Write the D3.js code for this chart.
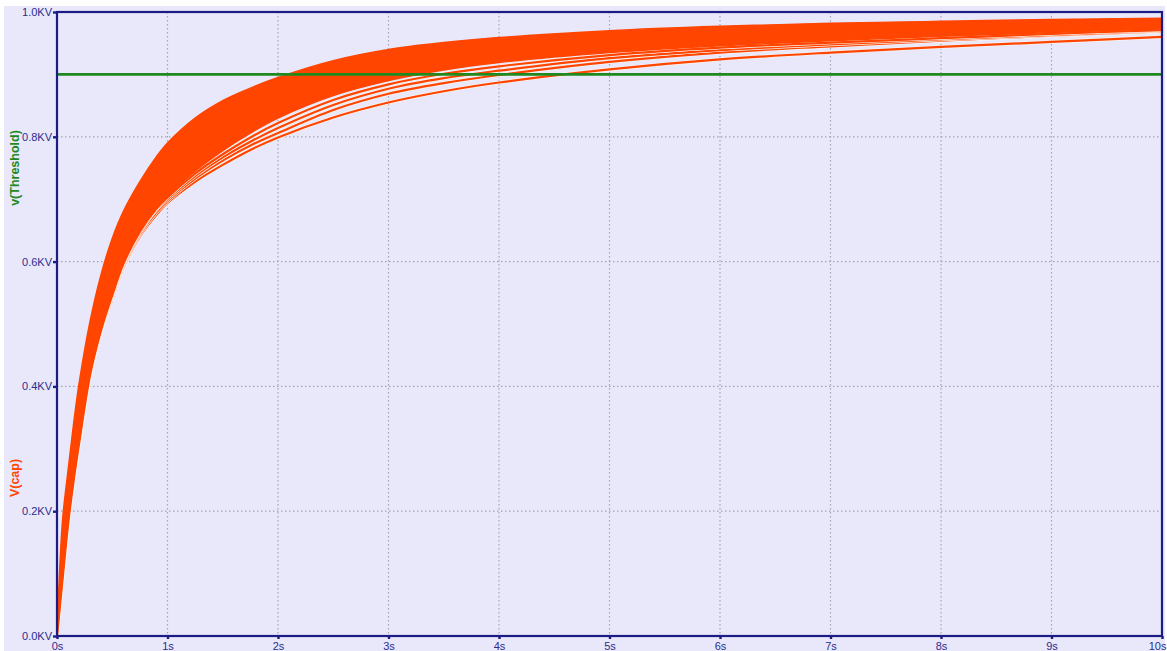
<!DOCTYPE html>
<html>
<head>
<meta charset="utf-8">
<script src="https://cdn.jsdelivr.net/npm/d3@7"></script>
<style>
  html, body { margin: 0; padding: 0; background: #ffffff; }
  svg { display: block; }
  text { font-family: "Liberation Sans", "DejaVu Sans", sans-serif; }
</style>
</head>
<body>
<svg id="chart" width="1167" height="651"></svg>
<script>
// Time samples (seconds)
const timeS = [0, 0.05, 0.1, 0.15, 0.2, 0.3, 0.4, 0.5, 0.6, 0.75, 0.9, 1, 1.25, 1.5, 1.75, 2, 2.5, 3, 3.5, 4, 5, 6, 7, 8, 9, 10];

// Upper edge of the dense bundle of V(cap) runs (KV)
const capUpper = [0, 0.185, 0.265, 0.34, 0.405, 0.505, 0.58, 0.637, 0.68, 0.728, 0.768, 0.79, 0.83, 0.858, 0.878, 0.895, 0.922, 0.940, 0.951, 0.959, 0.970, 0.977, 0.982, 0.985, 0.988, 0.990];
// Lower edge of the dense bundle (KV)
const capLower = [0, 0.092, 0.180, 0.250, 0.310, 0.420, 0.492, 0.548, 0.598, 0.650, 0.687, 0.705, 0.745, 0.778, 0.806, 0.830, 0.866, 0.890, 0.907, 0.919, 0.935, 0.946, 0.954, 0.961, 0.967, 0.973];

// Slower runs that peel away below the bundle (KV)
const capRunA = [0, 0.0915, 0.179, 0.249, 0.309, 0.419, 0.491, 0.546, 0.596, 0.648, 0.685, 0.703, 0.741, 0.772, 0.799, 0.822, 0.859, 0.884, 0.901, 0.913, 0.931, 0.943, 0.951, 0.958, 0.965, 0.971];
const capRunB = [0, 0.091, 0.178, 0.248, 0.308, 0.418, 0.490, 0.545, 0.595, 0.646, 0.683, 0.700, 0.737, 0.767, 0.792, 0.814, 0.851, 0.877, 0.894, 0.906, 0.926, 0.939, 0.948, 0.956, 0.963, 0.970];
const capRunC = [0, 0.0905, 0.177, 0.247, 0.307, 0.417, 0.489, 0.543, 0.593, 0.643, 0.679, 0.697, 0.733, 0.762, 0.786, 0.806, 0.843, 0.869, 0.886, 0.899, 0.920, 0.935, 0.945, 0.954, 0.962, 0.969];
const capRunD = [0, 0.090, 0.175, 0.245, 0.305, 0.415, 0.487, 0.540, 0.590, 0.640, 0.675, 0.694, 0.728, 0.755, 0.779, 0.799, 0.831, 0.855, 0.873, 0.887, 0.908, 0.924, 0.935, 0.944, 0.952, 0.960];

// Threshold level (KV)
const thresholdKV = 0.9;

// Axis ticks
const xTicks = d3.range(0, 11);
const xTickLabels = ["0s", "1s", "2s", "3s", "4s", "5s", "6s", "7s", "8s", "9s", "10s"];
const yTicks = [0, 0.2, 0.4, 0.6, 0.8, 1.0];
const yTickLabels = ["0.0KV", "0.2KV", "0.4KV", "0.6KV", "0.8KV", "1.0KV"];

const W = 1167, H = 651;
const plot = { left: 57, right: 1162, top: 12, bottom: 636 };

const navy = "#1c1c84";
const tickColor = "#2c2c8e";
const orange = "#ff4500";
const green = "#1e8a1e";

const svg = d3.select("#chart");

// Window background
svg.append("rect").attr("x", 4).attr("y", 6).attr("width", W - 6).attr("height", H - 6)
  .attr("fill", "#e8e8fa");

const x = d3.scaleLinear().domain([0, 10]).range([plot.left, plot.right]);
const y = d3.scaleLinear().domain([0, 1]).range([plot.bottom, plot.top]);

// Grid
const grid = svg.append("g").attr("stroke", "#a4a4ac").attr("stroke-width", 1.2)
  .attr("stroke-dasharray", "1.5,2.5");
grid.selectAll("line.vx").data(xTicks.filter(d => d > 0 && d < 10)).join("line")
  .attr("x1", d => x(d)).attr("x2", d => x(d))
  .attr("y1", plot.top).attr("y2", plot.bottom);
grid.selectAll("line.hy").data(yTicks.filter(d => d > 0 && d < 1)).join("line")
  .attr("x1", plot.left).attr("x2", plot.right)
  .attr("y1", d => y(d)).attr("y2", d => y(d));

svg.append("clipPath").attr("id", "plotClip").append("rect")
  .attr("x", plot.left).attr("y", plot.top)
  .attr("width", plot.right - plot.left).attr("height", plot.bottom - plot.top);

const traces = svg.append("g").attr("clip-path", "url(#plotClip)");

const curve = d3.curveCatmullRom.alpha(0.5);

// Slower separated runs: thin pale halo then the trace
const runs = [capRunD, capRunC, capRunB, capRunA];
const runLine = d3.line().x((d, i) => x(timeS[i])).y(d => y(d)).curve(curve);
runs.forEach(r => {
  traces.append("path").datum(r).attr("d", runLine)
    .attr("fill", "none").attr("stroke", "#fbf3f0").attr("stroke-width", 3.6);
  traces.append("path").datum(r).attr("d", runLine)
    .attr("fill", "none").attr("stroke", orange).attr("stroke-width", 2.2);
});

// Dense bundle
const band = d3.area()
  .x((d, i) => x(timeS[i]))
  .y0((d, i) => y(capLower[i]))
  .y1((d, i) => y(capUpper[i]))
  .curve(curve);
traces.append("path").datum(capUpper).attr("d", band)
  .attr("fill", orange).attr("stroke", orange).attr("stroke-width", 1.5);

// Threshold
traces.append("line")
  .attr("x1", plot.left).attr("x2", plot.right)
  .attr("y1", y(thresholdKV)).attr("y2", y(thresholdKV))
  .attr("stroke", green).attr("stroke-width", 2.6);

// Frame
svg.append("rect").attr("x", plot.left).attr("y", plot.top)
  .attr("width", plot.right - plot.left).attr("height", plot.bottom - plot.top)
  .attr("fill", "none").attr("stroke", navy).attr("stroke-width", 2.2);

// Y axis
const yAxis = svg.append("g").attr("transform", `translate(${plot.left},0)`)
  .call(d3.axisLeft(y).tickValues(yTicks)
    .tickFormat((d, i) => yTickLabels[i]).tickSize(4).tickPadding(1));
yAxis.select(".domain").remove();
yAxis.selectAll(".tick line").attr("stroke", navy).attr("stroke-width", 2.4);
yAxis.selectAll(".tick text").attr("fill", tickColor)
  .style("font-size", "11px").style("font-family", "'Liberation Sans', sans-serif");

// X axis
const xAxis = svg.append("g").attr("transform", `translate(0,${plot.bottom})`)
  .call(d3.axisBottom(x).tickValues(xTicks)
    .tickFormat((d, i) => xTickLabels[i]).tickSize(3).tickPadding(3));
xAxis.select(".domain").remove();
xAxis.selectAll(".tick line").attr("stroke", navy).attr("stroke-width", 2.4);
xAxis.selectAll(".tick text").attr("fill", tickColor)
  .style("font-size", "11px").style("font-family", "'Liberation Sans', sans-serif");
// keep the last label inside the window
xAxis.selectAll(".tick text").filter(d => d === 10).attr("text-anchor", "end").attr("x", 4);

// Trace names along the left
svg.append("text")
  .attr("transform", "translate(19,168) rotate(-90)")
  .attr("text-anchor", "middle")
  .attr("fill", green).style("font-size", "12.5px").style("font-weight", "bold")
  .text("v(Threshold)");
svg.append("text")
  .attr("transform", "translate(19,478) rotate(-90)")
  .attr("text-anchor", "middle")
  .attr("fill", orange).style("font-size", "12.5px").style("font-weight", "bold")
  .text("V(cap)");
</script>
</body>
</html>
